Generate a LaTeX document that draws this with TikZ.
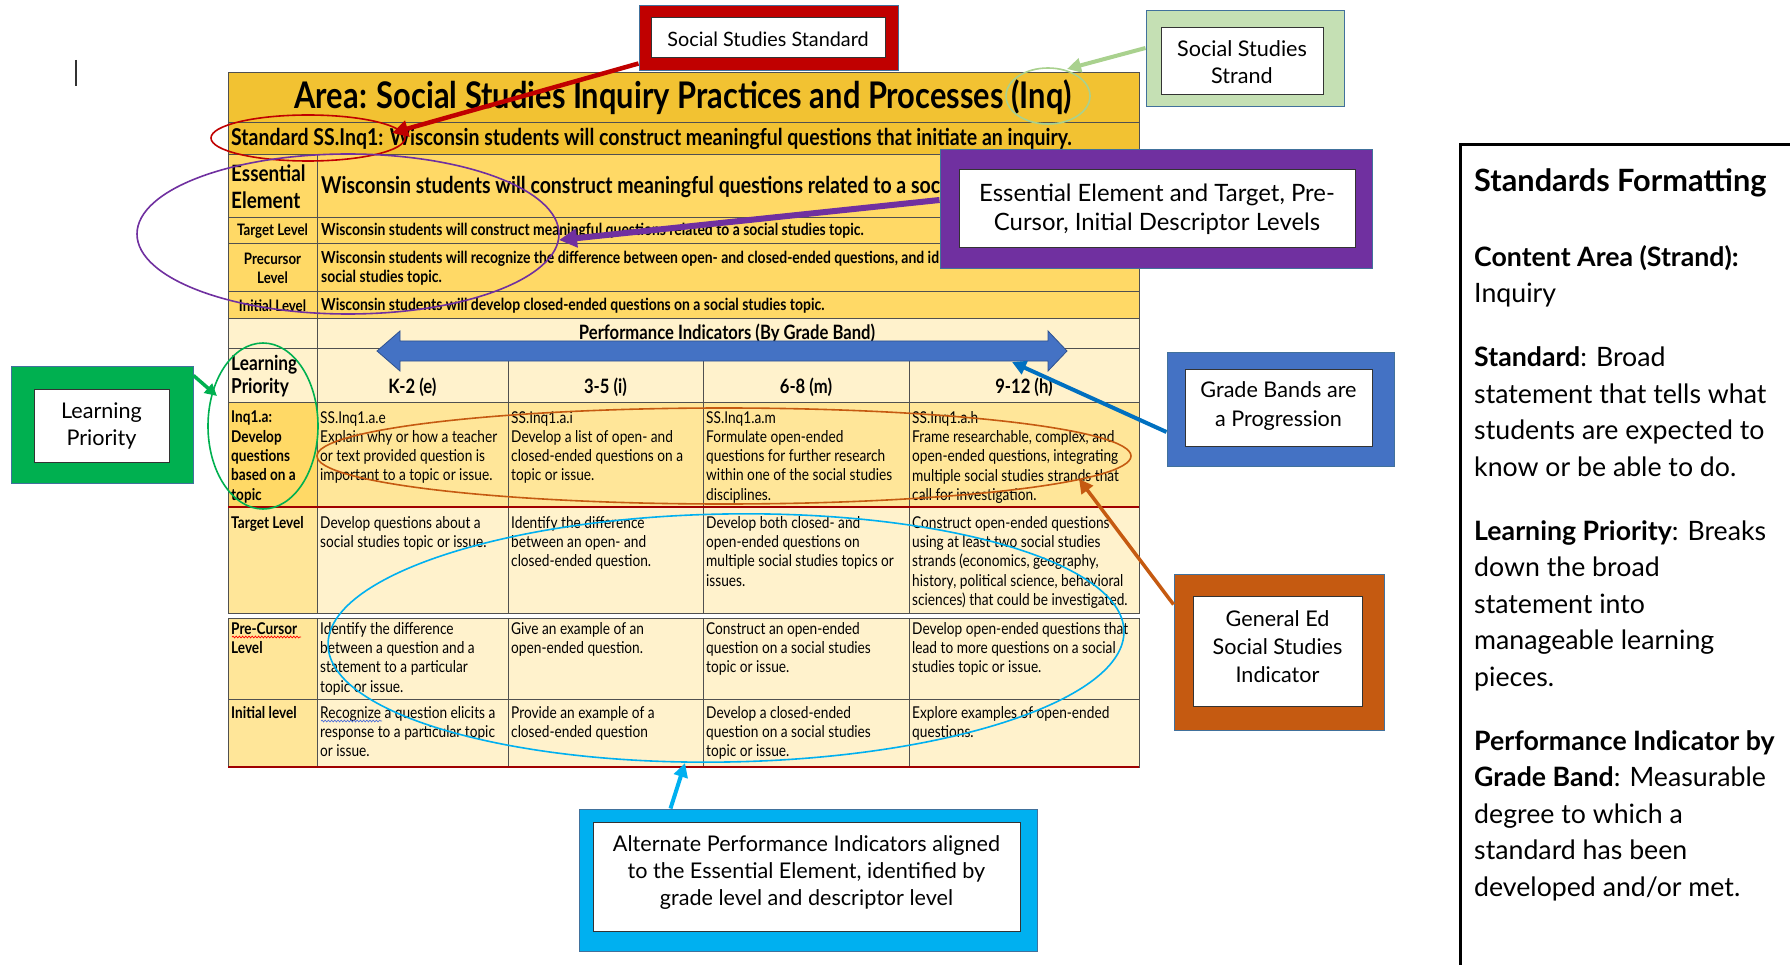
\documentclass[tikz,border=0pt]{standalone}
\usepackage{fontspec}
\setmainfont{Lato}
\newfontfamily\tbl[FakeStretch=0.84]{Lato}
\usetikzlibrary{shapes.geometric,arrows.meta,decorations.pathmorphing}
\definecolor{gold}{HTML}{F2C232}
\definecolor{yel}{HTML}{FFD966}
\definecolor{lyel}{HTML}{FFE699}
\definecolor{pale}{HTML}{FFF2CC}
\definecolor{grid}{HTML}{505050}
\definecolor{dred}{HTML}{A00000}
\definecolor{cred}{HTML}{C00000}
\definecolor{cpurple}{HTML}{7030A0}
\definecolor{cgreen}{HTML}{00B050}
\definecolor{cblue}{HTML}{4472C4}
\definecolor{dblue}{HTML}{2F528F}
\definecolor{corange}{HTML}{C55A11}
\definecolor{ccyan}{HTML}{00B0F0}
\definecolor{clgreen}{HTML}{C5E0B4}
\definecolor{algreen}{HTML}{A9D18E}
\definecolor{bord}{HTML}{41719C}
\definecolor{earrow}{HTML}{0070C0}
\definecolor{squig}{HTML}{4F6FD8}
\begin{document}
\begin{tikzpicture}[x=1pt,y=-1pt,
  tt/.style={inner sep=0pt, align=left, anchor=north west, font=\tbl\fontsize{16.3}{19.3}\selectfont},
  ttb/.style={inner sep=0pt, align=left, anchor=north west, font=\tbl\bfseries\fontsize{16.2}{19.3}\selectfont},
  sm/.style={inner sep=0pt, align=center, font=\tbl\bfseries\fontsize{15.8}{19.3}\selectfont},
  smr/.style={inner sep=0pt, align=left, anchor=west, font=\tbl\bfseries\fontsize{16.6}{19.3}\selectfont},
  big/.style={inner sep=0pt, font=\tbl\bfseries\fontsize{23.2}{26}\selectfont},
  hd/.style={inner sep=0pt, align=center, font=\tbl\bfseries\fontsize{19.8}{23}\selectfont},
  outerbox/.style={draw=bord, line width=1pt, inner sep=0pt},
  innerbox/.style={fill=white, draw=black!80, line width=0.8pt, inner sep=0pt},
  ctext/.style={inner sep=0pt, align=center, font=\fontsize{21.6}{27}\selectfont},
  ell/.style={ellipse, draw, inner sep=0pt, line width=1.6pt},
  gridline/.style={draw=grid, line width=0.9pt},
  wavy/.style={line width=0.7pt, decorate, decoration={snake, amplitude=0.9pt, segment length=3.2pt}}
]
\useasboundingbox (0,0) rectangle (1790,965);
\fill[white] (0,0) rectangle (1790,965);

% cursor bar
\draw[black!80, line width=1.2pt] (76,60) -- (76,86);

% ---------- table fills ----------
\fill[gold] (228,72) rectangle (1139,154);
\fill[yel] (228,154) rectangle (1139,318);
\fill[pale] (228,318) rectangle (1139,402);
\fill[yel] (228,402) rectangle (317,507);
\fill[lyel] (317,402) rectangle (1139,507);
\fill[lyel] (228,507) rectangle (317,613);
\fill[pale] (317,507) rectangle (1139,613);
\fill[lyel] (228,618) rectangle (317,767);
\fill[pale] (317,618) rectangle (1139,767);

% ---------- grid ----------
\draw[gridline] (228,72) rectangle (1139,318);
\foreach \yy in {122,154,217,243,291} \draw[gridline] (228,\yy) -- (1139,\yy);
\draw[gridline] (317,154) -- (317,318);
\draw[gridline] (228,318) -- (228,613) -- (1139,613) -- (1139,318);
\draw[gridline] (228,348) -- (1139,348);
\draw[gridline] (228,402) -- (1139,402);
\draw[gridline] (317,318) -- (317,613);
\foreach \xx in {508,703,909} \draw[gridline] (\xx,348) -- (\xx,613);
\draw[gridline] (228,618) rectangle (1139,767);
\draw[gridline] (228,699) -- (1139,699);
\draw[gridline] (317,618) -- (317,767);
\foreach \xx in {508,703,909} \draw[gridline] (\xx,618) -- (\xx,767);
\draw[dred, line width=2.2pt] (228,507) -- (1139,507);
\draw[dred, line width=2.2pt] (228,767) -- (1139,767);

% ---------- table text ----------
\node[inner sep=0pt, font=\tbl\bfseries\fontsize{36.7}{41}\selectfont] (title) at (683,97) {Area: Social Studies Inquiry Practices and Processes (Inq)};
\node[big, anchor=west] (stdrow) at (231,139) {Standard SS.Inq1: Wisconsin students will construct meaningful questions that initiate an inquiry.};
\node[big, anchor=west, align=left, font=\tbl\bfseries\fontsize{22.5}{27}\selectfont] (eel) at (231,187) {Essential\\Element};
\node[big, anchor=west] (eet) at (321,187) {Wisconsin students will construct meaningful questions related to a soc};
\node[sm] (tl1) at (272.5,231) {Target Level};
\node[smr] (tt1) at (321,231) {Wisconsin students will construct meaningful questions related to a social studies topic.};
\node[sm] (pl1) at (272.5,268) {Precursor\\Level};
\node[smr] (pt1) at (321,268) {Wisconsin students will recognize the difference between open- and closed-ended questions, and id\\social studies topic.};
\node[sm] (il1) at (272.5,305.5) {Initial Level};
\node[smr] (it1) at (321,305.5) {Wisconsin students will develop closed-ended questions on a social studies topic.};

\node[hd] (perf) at (727,333) {Performance Indicators (By Grade Band)};
\node[hd, anchor=west, align=left, font=\tbl\bfseries\fontsize{20.6}{23}\selectfont] (lp) at (231,376) {Learning\\Priority};
\node[hd] (ga) at (412.5,387) {K-2 (e)};
\node[hd] (gb) at (605.5,387) {3-5 (i)};
\node[hd] (gc) at (806,387) {6-8 (m)};
\node[hd] (gd) at (1024,387) {9-12 (h)};

\node[ttb] (inq) at (231,411) {Inq1.a:\\Develop\\questions\\based on a\\topic};
\node[tt] (ia) at (320,411) {SS.Inq1.a.e\\Explain why or how a teacher\\or text provided question is\\important to a topic or issue.};
\node[tt] (ib) at (511,411) {SS.Inq1.a.i\\Develop a list of open- and\\closed-ended questions on a\\topic or issue.};
\node[tt] (ic) at (706,411) {SS.Inq1.a.m\\Formulate open-ended\\questions for further research\\within one of the social studies\\disciplines.};
\node[tt] (id) at (912,411) {SS.Inq1.a.h\\Frame researchable, complex, and\\open-ended questions, integrating\\multiple social studies strands that\\call for investigation.};

\node[ttb] (tl) at (231,516) {Target Level};
\node[tt] (ta) at (320,516) {Develop questions about a\\social studies topic or issue.};
\node[tt] (tb) at (511,516) {Identify the difference\\between an open- and\\closed-ended question.};
\node[tt] (tc) at (706,516) {Develop both closed- and\\open-ended questions on\\multiple social studies topics or\\issues.};
\node[tt] (td) at (912,516) {Construct open-ended questions\\using at least two social studies\\strands (economics, geography,\\history, political science, behavioral\\sciences) that could be investigated.};

\node[ttb] (pl) at (231,622) {Pre-Cursor\\Level};
\node[tt] (pa) at (320,622) {Identify the difference\\between a question and a\\statement to a particular\\topic or issue.};
\node[tt] (pb) at (511,622) {Give an example of an\\open-ended question.};
\node[tt] (pc) at (706,622) {Construct an open-ended\\question on a social studies\\topic or issue.};
\node[tt] (pd) at (912,622) {Develop open-ended questions that\\lead to more questions on a social\\studies topic or issue.};

\node[ttb] (il) at (231,706) {Initial level};
\node[tt] (ja) at (320,706) {Recognize a question elicits a\\response to a particular topic\\or issue.};
\node[tt] (jb) at (511,706) {Provide an example of a\\closed-ended question};
\node[tt] (jc) at (706,706) {Develop a closed-ended\\question on a social studies\\topic or issue.};
\node[tt] (jd) at (912,706) {Explore examples of open-ended\\questions.};

% spell-check marks
\draw[wavy, red] (232,637) -- (301,637);
\draw[wavy, squig] (321,721) -- (382,721);

% ---------- big double arrow ----------
\filldraw[fill=cblue, draw=dblue, line width=0.8pt]
  (377,351) -- (400,331) -- (400,341) -- (1048,341) -- (1048,331) -- (1067,351)
  -- (1048,371) -- (1048,361) -- (400,361) -- (400,371) -- cycle;

% ---------- ellipses ----------
\node[ell, draw=cred, minimum width=194pt, minimum height=46pt] (eRed) at (308,138) {};
\node[ell, draw=algreen, minimum width=84pt, minimum height=56pt] (eStrand) at (1048,96) {};
\node[ell, draw=cpurple, minimum width=422pt, minimum height=160pt] (ePurple) at (348,234) {};
\node[ell, draw=cgreen, minimum width=110pt, minimum height=166pt] (eGreen) at (263,426) {};
\node[ell, draw=corange, minimum width=814pt, minimum height=96pt] (eOrange) at (724,456) {};
\node[ell, draw=ccyan, minimum width=796pt, minimum height=248pt, rotate=1] (eCyan) at (726,638) {};

% ---------- callout boxes ----------
\node[outerbox, fill=cred, minimum width=259pt, minimum height=65pt] (stdo) at (768.5,38.5) {};
\node[innerbox, minimum width=234pt, minimum height=40pt] (stdi) at (768,37) {};
\node[ctext, font=\fontsize{19.8}{24}\selectfont] (stdt) at (768,39.3) {Social Studies Standard};

\node[outerbox, fill=clgreen, minimum width=198pt, minimum height=96pt] (strando) at (1245,59) {};
\node[innerbox, minimum width=162pt, minimum height=67pt] (strandi) at (1242,60.5) {};
\node[ctext] (strandt) at (1242,62) {Social Studies\\Strand};

\node[outerbox, fill=cpurple, minimum width=432pt, minimum height=119pt] (eeo) at (1156,209.5) {};
\node[innerbox, minimum width=396pt, minimum height=78pt] (eei) at (1157,208) {};
\node[ctext, font=\fontsize{23.9}{29.5}\selectfont] (eet2) at (1157,209) {Essential Element and Target, Pre-\\Cursor, Initial Descriptor Levels};

\node[outerbox, fill=cgreen, minimum width=182pt, minimum height=117pt] (lpo) at (102,424.5) {};
\node[innerbox, minimum width=135pt, minimum height=73pt] (lpi) at (101.5,425.5) {};
\node[ctext] (lpt) at (101.5,426) {Learning\\Priority};

\node[outerbox, fill=cblue, minimum width=227pt, minimum height=114pt] (gbo) at (1280.5,409) {};
\node[innerbox, minimum width=187pt, minimum height=77pt] (gbi) at (1278.5,407.5) {};
\node[ctext, font=\fontsize{21.6}{28.5}\selectfont] (gbt) at (1278.5,406) {Grade Bands are\\a Progression};

\node[outerbox, fill=corange, minimum width=210pt, minimum height=156pt] (geo) at (1279,652) {};
\node[innerbox, minimum width=169pt, minimum height=110pt] (gei) at (1277.5,651) {};
\node[ctext, font=\fontsize{21.6}{28}\selectfont] (get) at (1277.5,647) {General Ed\\Social Studies\\Indicator};

\node[outerbox, fill=ccyan, minimum width=458pt, minimum height=142pt] (apo) at (808,880) {};
\node[innerbox, minimum width=427pt, minimum height=109pt] (api) at (806.5,876.5) {};
\node[ctext] (apt) at (806.5,873) {Alternate Performance Indicators aligned\\to the Essential Element, identified by\\grade level and descriptor level};

% ---------- arrows ----------
\coordinate (tRed) at (392,133);
\coordinate (tStrand) at (1067,69);
\coordinate (tPurple) at (559,240);
\coordinate (tGreen) at (217,396);
\coordinate (tBlue) at (1012,362);
\coordinate (tOrange) at (1079,479);
\coordinate (tCyan) at (685,763);
\draw[cred, line width=4.5pt, -{Triangle[length=16pt,width=16pt]}] ([yshift=8pt]stdo.south west) -- (tRed);
\draw[algreen, line width=4pt, -{Triangle[length=14pt,width=14pt]}] ([yshift=11pt]strando.west) -- (tStrand);
\draw[cpurple, line width=6pt, -{Triangle[length=18pt,width=18pt]}] ([yshift=9.5pt]eeo.west) -- (tPurple);
\draw[cgreen, line width=3.5pt, -{Triangle[length=12pt,width=12pt]}] ([yshift=-10pt]lpo.north east) -- (tGreen);
\draw[earrow, line width=4pt, -{Triangle[length=14pt,width=14pt]}] ([yshift=-23pt]gbo.west) -- (tBlue);
\draw[corange, line width=3.5pt, -{Triangle[length=14pt,width=14pt]}] ([yshift=-31pt]geo.north west) -- (tOrange);
\draw[ccyan, line width=4pt, -{Triangle[length=14pt,width=14pt]}] ([xshift=92pt]apo.north west) -- (tCyan);

% ---------- right panel ----------
\draw[black, line width=3pt] (1795,145) -- (1460,145) -- (1460,970);
\node[inner sep=0pt, anchor=west, font=\bfseries\fontsize{30.7}{36}\selectfont] (ptitle) at (1474,182.5) {Standards Formatting};
\node[inner sep=0pt, anchor=north west, align=left, font=\fontsize{26.7}{36.5}\selectfont] (pbody) at (1474,245)
{\textbf{Content Area (Strand):}\\
Inquiry\\[27.5pt]
\textbf{Standard}: Broad\\
statement that tells what\\
students are expected to\\
know or be able to do.\\[27.5pt]
\textbf{Learning Priority}: Breaks\\
down the broad\\
statement into\\
manageable learning\\
pieces.\\[27.5pt]
\textbf{Performance Indicator by}\\
\textbf{Grade Band}: Measurable\\
degree to which a\\
standard has been\\
developed and/or met.};
\end{tikzpicture}
\end{document}
